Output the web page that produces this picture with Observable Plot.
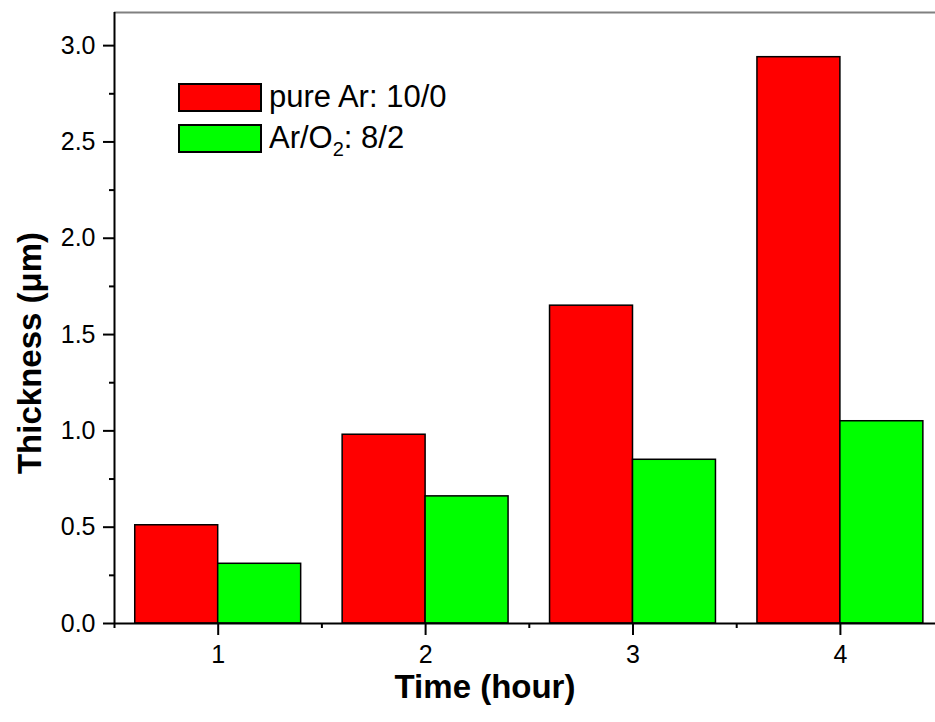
<!DOCTYPE html>
<html>
<head>
<meta charset="utf-8">
<script src="https://cdn.jsdelivr.net/npm/d3@7"></script>
<script src="https://cdn.jsdelivr.net/npm/@observablehq/plot@0.6"></script>
<style>
  html, body { margin: 0; padding: 0; background: #fff; overflow: hidden; }
  #wrap { position: relative; width: 935px; height: 722px; overflow: hidden; font-family: "Liberation Sans", Arial, sans-serif; }
  .leg { position: absolute; display: flex; align-items: center; font-size: 31px; color: #000; white-space: nowrap; }
  .sw { width: 80px; height: 25px; border: 2px solid #000; margin-right: 7px; }
  sub { font-size: 20px; vertical-align: -8px; line-height: 0; }
</style>
</head>
<body>
<div id="wrap"></div>
<script>
// ---- data ----
const times = [1, 2, 3, 4];
const pureAr = [0.51, 0.98, 1.65, 2.94];
const arO2 = [0.31, 0.66, 0.85, 1.05];
const seriesNames = ["pure Ar: 10/0", "Ar/O2: 8/2"];
const seriesColors = ["#ff0000", "#00ff00"];
const yTicks = [0, 0.5, 1.0, 1.5, 2.0, 2.5, 3.0];
const yMinorTicks = [0.25, 0.75, 1.25, 1.75, 2.25, 2.75];
const xTicks = [1, 2, 3, 4];
const xMinorTicks = [0.5, 1.5, 2.5, 3.5, 4.5];
const xTitle = "Time (hour)";
const yTitle = "Thickness (\u03bcm)";

const barW = 0.4;
const rows = [];
times.forEach((t, i) => {
  rows.push({time: t, value: pureAr[i], series: 0, x1: t - barW, x2: t});
  rows.push({time: t, value: arO2[i], series: 1, x1: t, x2: t + barW});
});

const yMax = 3.172;
const font = "Liberation Sans, Arial, sans-serif";

const chart = Plot.plot({
  width: 935,
  height: 722,
  marginTop: 12,
  marginBottom: 99,
  marginLeft: 114,
  marginRight: 0,
  style: {fontFamily: font, fontSize: "25px", background: "white", overflow: "hidden"},
  x: {domain: [0.5, 4.5], range: [114, 943.6], axis: null},
  y: {domain: [0, yMax], axis: null},
  marks: [
    Plot.rect(rows, {x1: "x1", x2: "x2", y1: 0, y2: "value",
      fill: d => seriesColors[d.series], stroke: "black", strokeWidth: 1.5}),
    Plot.ruleY([yMax], {stroke: "#808080", strokeWidth: 2}),
    Plot.ruleX([0.5], {stroke: "black", strokeWidth: 2}),
    Plot.ruleY([0], {stroke: "black", strokeWidth: 2}),
    Plot.axisY(yTicks, {tickSize: 11, tickPadding: 8, tickFormat: d3.format(".1f"),
      strokeWidth: 2, stroke: "black", fill: "black", label: null}),
    Plot.axisY(yMinorTicks, {tickSize: 5, tickFormat: () => "", strokeWidth: 2, stroke: "black", label: null}),
    Plot.axisX(xTicks, {tickSize: 12, tickPadding: 10, tickFormat: d3.format("d"),
      strokeWidth: 2, stroke: "black", fill: "black", label: null}),
    Plot.axisX(xMinorTicks, {tickSize: 5, tickFormat: () => "", strokeWidth: 2, stroke: "black", label: null}),
    Plot.text([xTitle], {frameAnchor: "bottom", textAnchor: "middle", dx: -40, dy: 74, fontSize: 33, fontWeight: "bold", fill: "black"}),
    Plot.text([yTitle], {frameAnchor: "left", textAnchor: "middle", rotate: -90, dx: -84, dy: 35, fontSize: 33, fontWeight: "bold", fill: "black"})
  ]
});

const wrap = document.getElementById("wrap");
wrap.appendChild(chart);

// legend overlay
const legendTops = [79, 120];
seriesNames.forEach((name, i) => {
  const d = document.createElement("div");
  d.className = "leg";
  d.style.left = "178px";
  d.style.top = legendTops[i] + "px";
  const sw = document.createElement("div");
  sw.className = "sw";
  sw.style.background = seriesColors[i];
  d.appendChild(sw);
  const t = document.createElement("span");
  if (name.includes("O2")) {
    const parts = name.split("O2");
    t.innerHTML = parts[0] + "O<sub>2</sub>" + parts[1];
  } else {
    t.textContent = name;
  }
  d.appendChild(t);
  wrap.appendChild(d);
});
</script>
</body>
</html>
